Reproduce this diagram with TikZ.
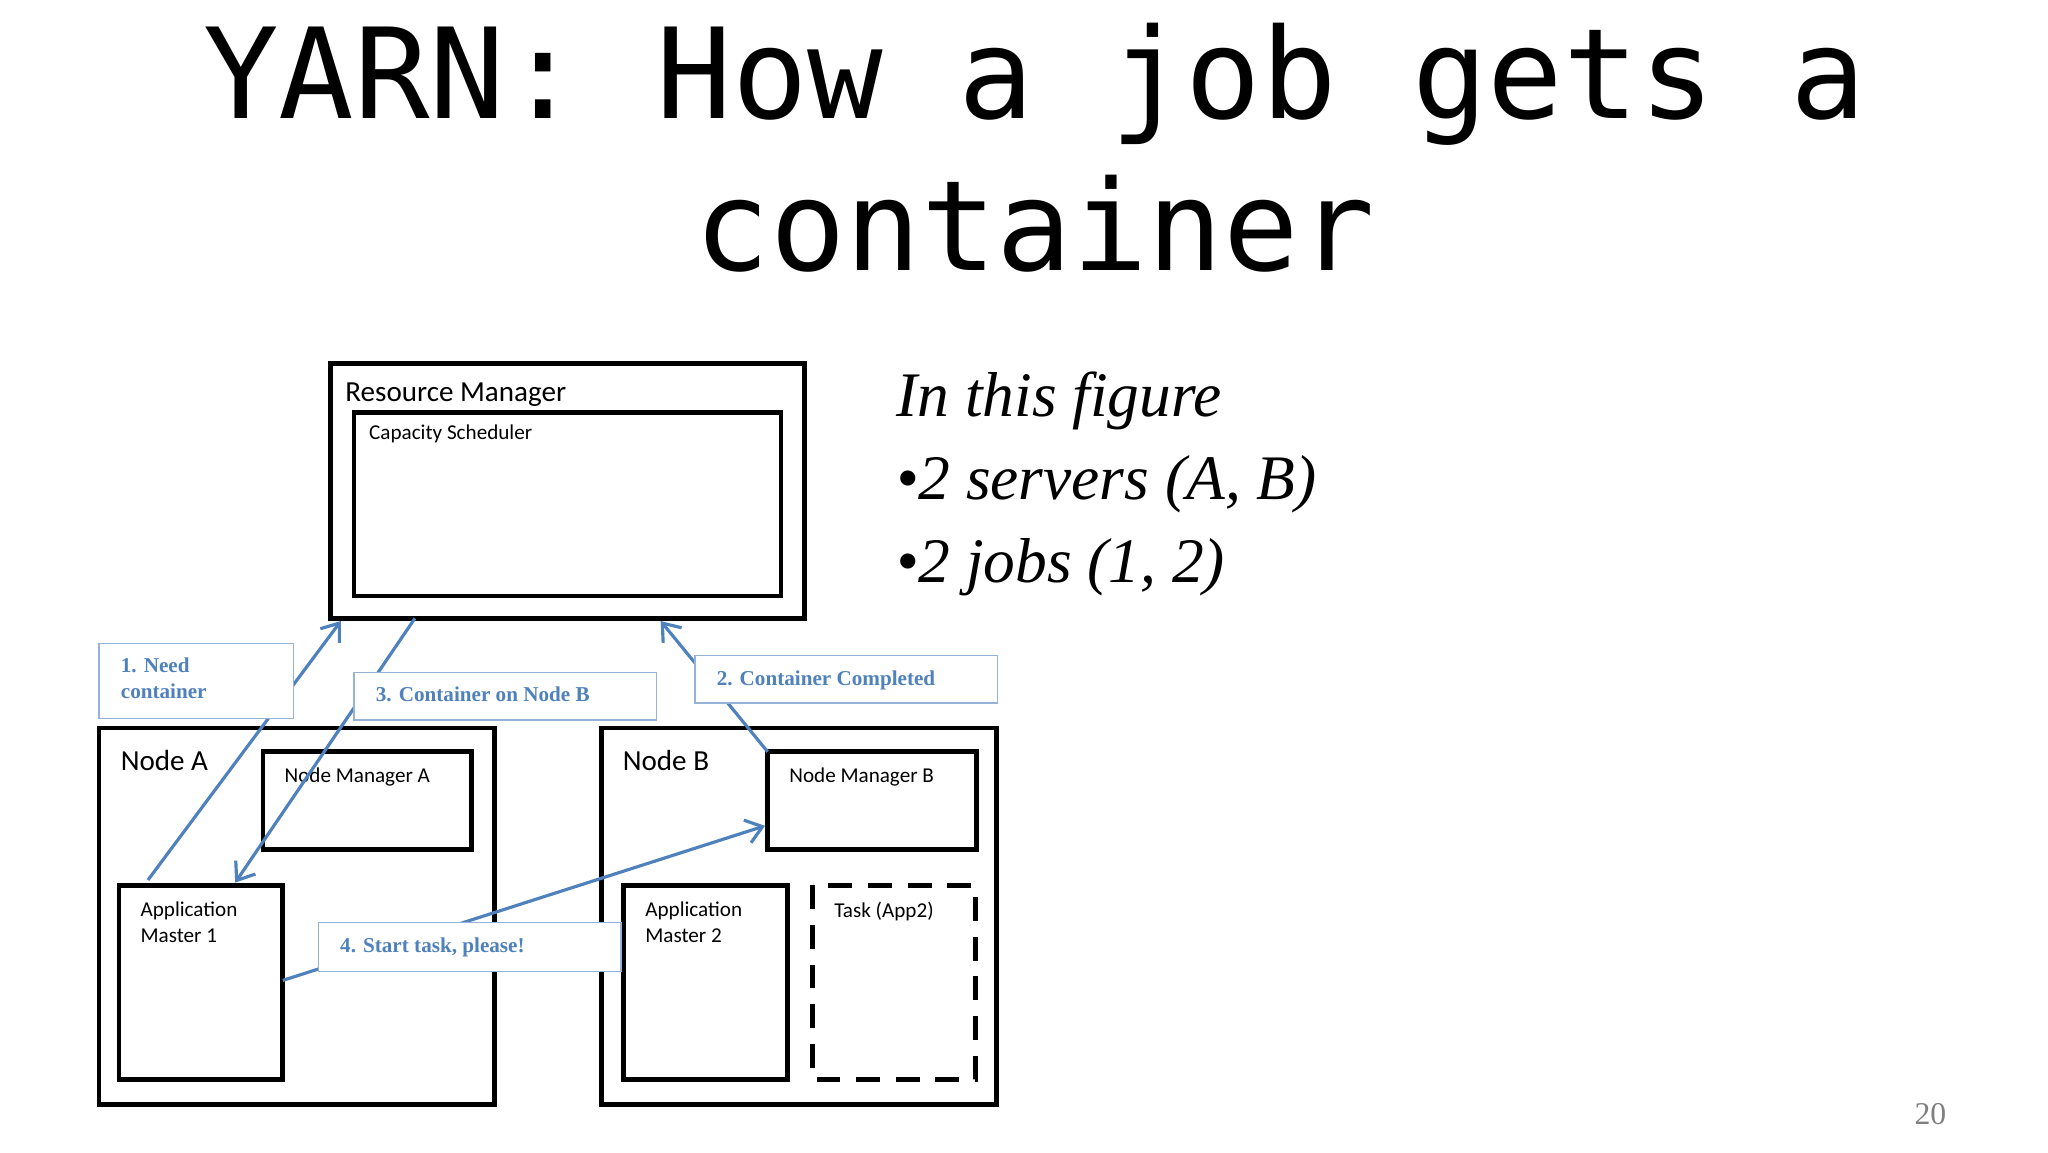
\documentclass[tikz,border=0pt]{standalone}
\usepackage{fontspec}
\setmainfont{Liberation Serif}
\newfontfamily\calib{Carlito}
\newfontfamily\monof{DejaVu Sans Mono}
\usetikzlibrary{arrows.meta}
\definecolor{lblue}{HTML}{4F81BD}
\begin{document}
\begin{tikzpicture}[x=0.5pt,y=-0.5pt,
  box/.style={draw,line width=1.8pt,inner sep=0},
  lab/.style={draw=lblue!60,fill=white,line width=0.5pt,text=lblue,font=\bfseries\fontsize{8}{10}\selectfont,align=left,anchor=north west,inner sep=0},
  con/.style={draw=lblue,line width=1.2pt,-{Straight Barb[length=6pt,width=9pt]}},
  btxt/.style={anchor=north west,font=\calib\fontsize{8}{10}\selectfont,align=left,inner sep=0}]
\useasboundingbox (0,0) rectangle (1550,872);
\node[font=\monof\fontsize{47.5}{57}\selectfont,anchor=base] (t1) at (783,90) {YARN: How a job gets a};
\node[font=\monof\fontsize{47.5}{57}\selectfont,anchor=base] (t2) at (783,205) {container};
% boxes
\draw[box] (250,275) rectangle (609,468);
\draw[box] (268,312) rectangle (591,451);
\node[anchor=base west,font=\calib\fontsize{11}{13}\selectfont,inner sep=0] (rmt) at (261,304) {Resource Manager};
\node[btxt] (cst) at (279,321) {Capacity Scheduler};
\draw[box] (75,551) rectangle (374,836);
\draw[box] (455,551) rectangle (754,836);
\node[anchor=base west,font=\calib\fontsize{11}{13}\selectfont,inner sep=0] (na) at (91,583) {Node A};
\node[anchor=base west,font=\calib\fontsize{11}{13}\selectfont,inner sep=0] (nb) at (471,583) {Node B};
\draw[box] (199,569) rectangle (357,643);
\draw[box] (581,569) rectangle (739,643);
\draw[box] (90,670) rectangle (214,817);
\draw[box] (472,670) rectangle (596,817);
\draw[box,dash pattern=on 9pt off 6pt] (615,670) rectangle (738,817);
\node[btxt] (nmat) at (215,581) {Node Manager A};
\node[btxt] (nmbt) at (597,581) {Node Manager B};
\node[btxt] (am1) at (106,682) {Application\\Master 1};
\node[btxt] (am2) at (488,682) {Application\\Master 2};
\node[btxt] (task) at (631,682) {Task (App2)};
% coordinates
\coordinate (a1s) at (112,666); \coordinate (a1e) at (258,470);
\coordinate (a3s) at (314,468); \coordinate (a3e) at (178,668);
\coordinate (a2s) at (581,569); \coordinate (a2e) at (500,470);
\coordinate (a4s) at (214,742); \coordinate (a4e) at (579,625);
\draw[con] (a1s) -- (a1e);
\draw[con] (a3s) -- (a3e);
\draw[con] (a2s) -- (a2e);
\draw[con] (a4s) -- (a4e);
% labels
\draw[draw=lblue!60,fill=white,line width=0.5pt] (75,487) rectangle (222,544);
\node[lab,draw=none,fill=none] (l1) at (91,497) {1. Need\\container};
\draw[draw=lblue!60,fill=white,line width=0.5pt] (268,509) rectangle (497,545);
\node[lab,draw=none,fill=none] (l3) at (284,519) {3. Container on Node B};
\draw[draw=lblue!60,fill=white,line width=0.5pt] (526,496) rectangle (755,532);
\node[lab,draw=none,fill=none] (l2) at (542,507) {2. Container Completed};
\draw[draw=lblue!60,fill=white,line width=0.5pt] (241,698) rectangle (470,735);
\node[lab,draw=none,fill=none] (l4) at (257,709) {4. Start task, please!};
% right text
\node[anchor=base west,font=\itshape\fontsize{24}{30}\selectfont,inner sep=0] (r1) at (678,315) {In this figure};
\node[anchor=base west,font=\itshape\fontsize{24}{30}\selectfont,inner sep=0] (r2) at (678,378) {\textbullet2 servers (A, B)};
\node[anchor=base west,font=\itshape\fontsize{24}{30}\selectfont,inner sep=0] (r3) at (678,441) {\textbullet2 jobs (1, 2)};
\node[anchor=base,font=\fontsize{12}{14}\selectfont,text=gray,inner sep=0] (pg) at (1461,851) {20};
\end{tikzpicture}
\end{document}
